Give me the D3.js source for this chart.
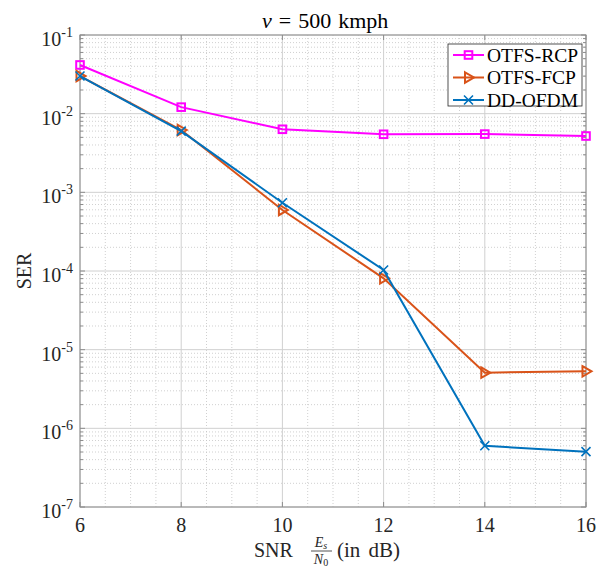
<!DOCTYPE html>
<meta charset="utf-8">
<script src="https://d3js.org/d3.v7.min.js"></script>
<style>body{margin:0;background:#fff}</style>
<svg id="chart" width="610" height="567"></svg>
<script>

// data
var snr = [6, 8, 10, 12, 14, 16];
var serRcp = [0.0416, 0.0121, 0.00633, 0.00547, 0.0055, 0.0052];
var serFcp = [0.0301, 0.0062, 0.000597, 0.0000807, 0.0000051, 0.0000053];
var serOfdm = [0.0301, 0.0060, 0.000738, 0.000103, 0.00000060, 0.000000505];
var seriesNames = ["OTFS-RCP", "OTFS-FCP", "DD-OFDM"];
var xTicks = [6, 8, 10, 12, 14, 16];
var yExps = [-1, -2, -3, -4, -5, -6, -7];

var svg = d3.select("#chart"),
    pL = 80, pR = 586, pT = 35, pB = 507;
var font = "'Liberation Serif', 'Times New Roman', serif";

var x = d3.scaleLinear().domain([6, 16]).range([pL, pR]);
var y = d3.scaleLog().domain([1e-7, 1e-1]).range([pB, pT]);

// minor grid
var g = svg.append("g");
var xMinor = d3.range(6, 16.01, 0.5).filter(function (d) { return d % 2 != 0; });
g.selectAll(".xm").data(xMinor).enter().append("line")
    .attr("x1", d => x(d)).attr("x2", d => x(d))
    .attr("y1", pT).attr("y2", pB)
    .attr("stroke", "#c4c4c4").attr("stroke-width", 0.8).attr("stroke-dasharray", "1,2");
var yMinor = [];
yExps.slice(1).forEach(function (e) {
    for (var k = 2; k <= 9; k++) yMinor.push(k * Math.pow(10, e));
});
g.selectAll(".ym").data(yMinor).enter().append("line")
    .attr("x1", pL).attr("x2", pR)
    .attr("y1", d => y(d)).attr("y2", d => y(d))
    .attr("stroke", "#c4c4c4").attr("stroke-width", 0.8).attr("stroke-dasharray", "1,2");

// major grid
g.selectAll(".xg").data(xTicks).enter().append("line")
    .attr("x1", d => x(d)).attr("x2", d => x(d))
    .attr("y1", pT).attr("y2", pB)
    .attr("stroke", "#d0d0d0").attr("stroke-width", 1);
g.selectAll(".yg").data(yExps).enter().append("line")
    .attr("x1", pL).attr("x2", pR)
    .attr("y1", d => y(Math.pow(10, d))).attr("y2", d => y(Math.pow(10, d)))
    .attr("stroke", "#d0d0d0").attr("stroke-width", 1);

// axes box + inward ticks
svg.append("rect").attr("x", pL).attr("y", pT)
    .attr("width", pR - pL).attr("height", pB - pT)
    .attr("fill", "none").attr("stroke", "#8c8c8c").attr("stroke-width", 1);
var ticks = svg.append("g").attr("stroke", "#8c8c8c").attr("stroke-width", 1);
xTicks.forEach(function (d) {
    ticks.append("line").attr("x1", x(d)).attr("x2", x(d)).attr("y1", pB).attr("y2", pB - 5);
    ticks.append("line").attr("x1", x(d)).attr("x2", x(d)).attr("y1", pT).attr("y2", pT + 5);
});
yExps.forEach(function (e) {
    var v = Math.pow(10, e);
    ticks.append("line").attr("x1", pL).attr("x2", pL + 5).attr("y1", y(v)).attr("y2", y(v));
    ticks.append("line").attr("x1", pR).attr("x2", pR - 5).attr("y1", y(v)).attr("y2", y(v));
});
yMinor.forEach(function (v) {
    ticks.append("line").attr("x1", pL).attr("x2", pL + 3).attr("y1", y(v)).attr("y2", y(v));
    ticks.append("line").attr("x1", pR).attr("x2", pR - 3).attr("y1", y(v)).attr("y2", y(v));
});

// tick labels
svg.append("g").selectAll("text").data(xTicks).enter().append("text")
    .attr("x", d => x(d)).attr("y", pB + 25)
    .attr("text-anchor", "middle")
    .style("font-family", font).style("font-size", "20px").attr("fill", "#262626")
    .text(d => d);
var yl = svg.append("g").selectAll("text").data(yExps).enter().append("text")
    .attr("x", pL - 7).attr("y", d => y(Math.pow(10, d)) + 11)
    .attr("text-anchor", "end")
    .style("font-family", font).style("font-size", "20px").attr("fill", "#262626");
yl.append("tspan").text("10");
yl.append("tspan").attr("dy", -9).style("font-size", "14px").text(d => d);

// title
var title = svg.append("text").attr("x", 262).attr("y", 28)
    .style("font-family", font).style("font-size", "22px").attr("fill", "#000");
title.append("tspan").style("font-style", "italic").text("v");
title.append("tspan").attr("dx", 7).text("=");
title.append("tspan").attr("dx", 7).text("500");
title.append("tspan").attr("dx", 7).text("kmph");

// axis labels
svg.append("text").attr("transform", "translate(31," + ((pT + pB) / 2) + ") rotate(-90)")
    .attr("text-anchor", "middle")
    .style("font-family", font).style("font-size", "20px").attr("fill", "#262626")
    .text("SER");
var xl = svg.append("g").style("font-family", font).attr("fill", "#262626");
xl.append("text").attr("x", 254).attr("y", 557).style("font-size", "20px").text("SNR");
xl.append("text").attr("x", 321).attr("y", 547).attr("text-anchor", "middle")
    .style("font-size", "14px").html("<tspan font-style='italic'>E</tspan><tspan font-style='italic' font-size='10px' dy='2'>s</tspan>");
xl.append("line").attr("x1", 311).attr("x2", 332).attr("y1", 551).attr("y2", 551)
    .attr("stroke", "#262626").attr("stroke-width", 0.8);
xl.append("text").attr("x", 321).attr("y", 564).attr("text-anchor", "middle")
    .style("font-size", "14px").html("<tspan font-style='italic'>N</tspan><tspan font-size='10px' dy='2'>0</tspan>");
xl.append("text").attr("x", 337).attr("y", 557).style("font-size", "21px")
    .style("word-spacing", "3px").text("(in dB)");

// series
var series = [
    { name: seriesNames[0], values: serRcp, color: "#ff00ff", marker: "square" },
    { name: seriesNames[1], values: serFcp, color: "#d95319", marker: "tri" },
    { name: seriesNames[2], values: serOfdm, color: "#0072bd", marker: "x" }
];

function drawMarker(sel, type, color) {
    if (type == "square") {
        sel.append("rect").attr("x", -3.8).attr("y", -3.8).attr("width", 7.6).attr("height", 7.6)
            .attr("fill", "none").attr("stroke", color).attr("stroke-width", 2);
    } else if (type == "tri") {
        sel.append("path").attr("d", "M-3.5,-5.2 L5.5,0 L-3.5,5.2 Z")
            .attr("fill", "none").attr("stroke", color).attr("stroke-width", 2);
    } else {
        sel.append("path").attr("d", "M-4.5,-4.5 L4.5,4.5 M-4.5,4.5 L4.5,-4.5")
            .attr("fill", "none").attr("stroke", color).attr("stroke-width", 1.6);
    }
}

var line = d3.line().x(d => x(d[0])).y(d => y(d[1]));
series.forEach(function (s) {
    var pts = snr.map((d, i) => [d, s.values[i]]);
    svg.append("path").datum(pts)
        .attr("fill", "none").attr("stroke", s.color).attr("stroke-width", 2)
        .attr("d", line);
    svg.append("g").selectAll("g").data(pts).enter().append("g")
        .attr("transform", d => "translate(" + x(d[0]) + "," + y(d[1]) + ")")
        .each(function () { drawMarker(d3.select(this), s.marker, s.color); });
});

// legend
var lg = svg.append("g");
lg.append("rect").attr("x", 448).attr("y", 44).attr("width", 134).attr("height", 62)
    .attr("fill", "#fff").attr("stroke", "#262626").attr("stroke-width", 0.8);
series.forEach(function (s, i) {
    var ly = 55 + i * 22.5;
    lg.append("line").attr("x1", 453).attr("x2", 484).attr("y1", ly).attr("y2", ly)
        .attr("stroke", s.color).attr("stroke-width", 2);
    var m = lg.append("g").attr("transform", "translate(468.5," + ly + ")");
    drawMarker(m, s.marker, s.color);
    lg.append("text").attr("x", 487).attr("y", ly + 6.5)
        .style("font-family", font).style("font-size", "19.5px").attr("fill", "#000")
        .text(s.name);
});

</script>
